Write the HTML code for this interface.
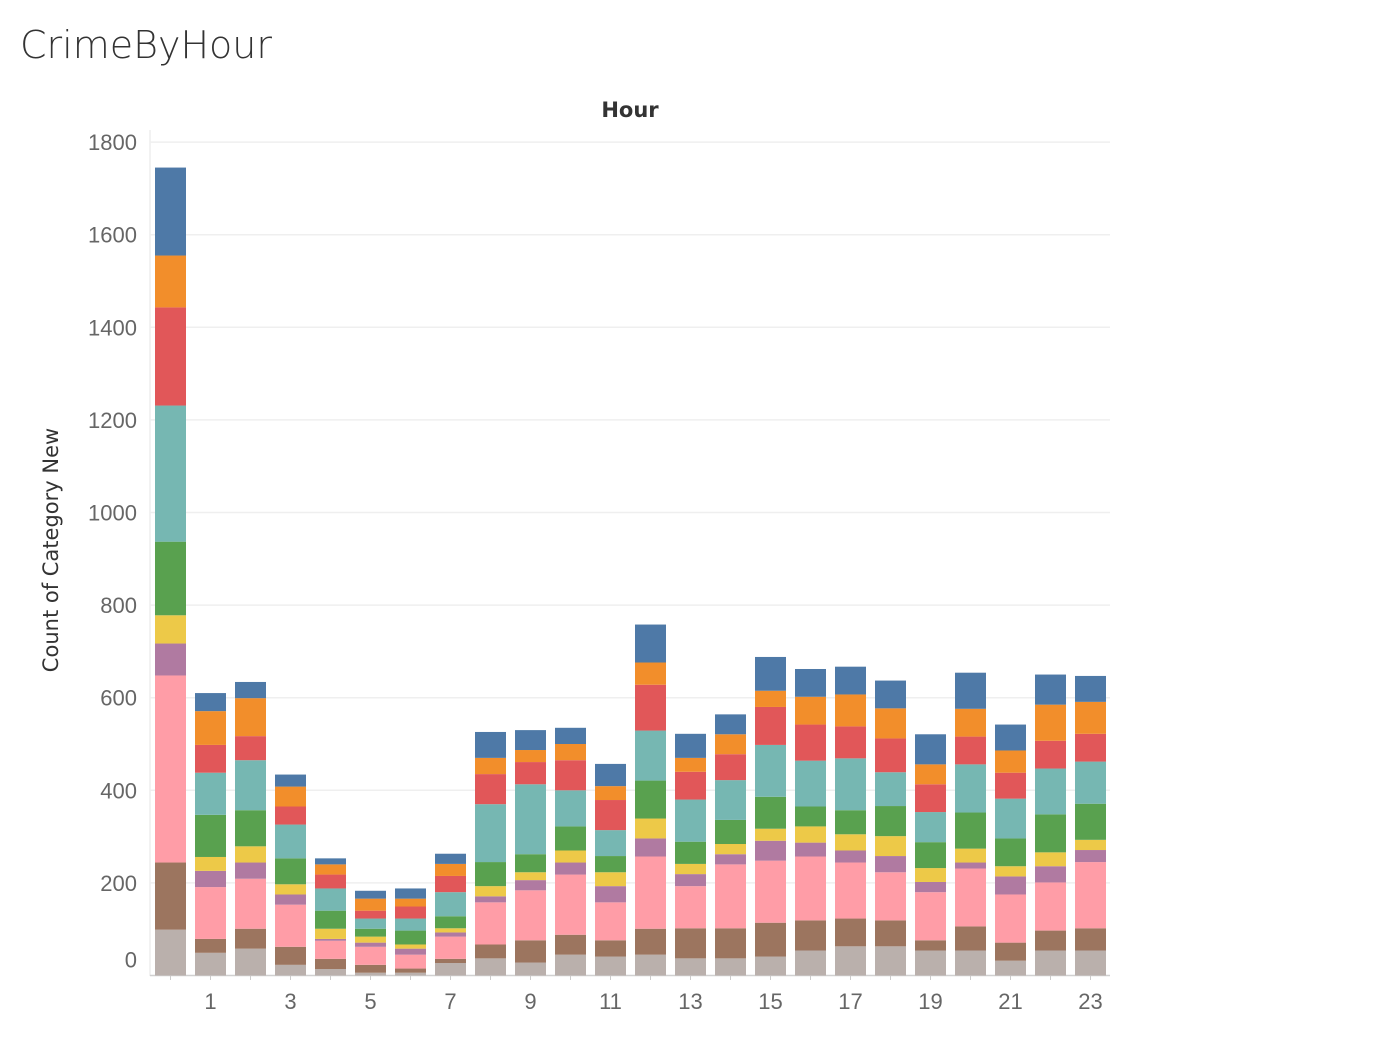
<!DOCTYPE html>
<html><head><meta charset="utf-8"><style>
body{margin:0;background:#fff;width:1374px;height:1036px;overflow:hidden;font-family:"Liberation Sans","DejaVu Sans",sans-serif}
</style></head><body>
<svg id="chart" width="1374" height="1036" xmlns="http://www.w3.org/2000/svg">
<text x="20" y="58" font-size="38" fill="#333" font-family="DejaVu Sans, sans-serif" font-weight="300">CrimeByHour</text>
<text x="630" y="117" font-size="21" fill="#333" font-weight="bold" text-anchor="middle" font-family="DejaVu Sans, sans-serif">Hour</text>
<text transform="translate(58,550) rotate(-90)" font-size="21" fill="#333" text-anchor="middle" font-family="DejaVu Sans, sans-serif">Count of Category New</text>
<g id="grid"></g><g id="bars"></g><g id="axes"></g>
</svg>
<script>
const hours=[0,1,2,3,4,5,6,7,8,9,10,11,12,13,14,15,16,17,18,19,20,21,22,23];
const yTicks=[0,200,400,600,800,1000,1200,1400,1600,1800];
const colors=["#bab0ac","#9c755f","#ff9da7","#b07aa1","#edc948","#59a14f","#76b7b2","#e15759","#f28e2b","#4e79a7"];
const sGray=[99,49,58,23,14,6,6,27,37,28,45,41,45,37,37,41,54,63,63,54,54,32,54,54];
const sBrown=[145,30,43,39,22,17,9,9,30,48,43,35,56,65,65,73,65,60,56,22,52,39,43,48];
const sPink=[404,112,108,91,39,39,30,48,91,108,130,82,156,91,138,134,138,121,104,104,125,104,104,143];
const sPurple=[69,35,35,22,4,9,13,9,13,22,26,35,39,26,22,43,30,26,35,22,13,39,35,26];
const sYellow=[61,30,35,22,22,13,9,9,22,17,26,30,43,22,22,26,35,35,43,30,30,22,30,22];
const sGreen=[159,91,78,56,39,17,30,26,52,39,52,35,82,48,52,69,43,52,65,56,78,60,82,78];
const sTeal=[294,91,108,73,48,22,26,52,125,151,78,56,108,91,86,112,99,112,73,65,104,86,99,91];
const sRed=[212,60,52,39,30,17,26,35,65,48,65,65,99,60,56,82,78,69,73,60,60,56,60,60];
const sOrange=[112,73,82,43,22,26,17,26,35,26,35,30,48,30,43,35,60,69,65,43,60,48,78,69];
const sBlue=[190,39,35,26,13,17,22,22,56,43,35,48,82,52,43,73,60,60,60,65,78,56,65,56];
const series=[sGray,sBrown,sPink,sPurple,sYellow,sGreen,sTeal,sRed,sOrange,sBlue];
const names=["gray","brown","pink","purple","yellow","green","teal","red","orange","blue"];
const NS="http://www.w3.org/2000/svg";
const y0=975.5,k=0.463;
function yScale(v){return y0-v*k;}
function xScale(h){return 155+40*h;}
const bw=31;
function mk(t,a,p){const e=document.createElementNS(NS,t);for(const n in a)e.setAttribute(n,a[n]);p.appendChild(e);return e;}
const grid=document.getElementById('grid'),bars=document.getElementById('bars'),axes=document.getElementById('axes');
mk('line',{x1:150,x2:150,y1:130,y2:976,stroke:'#e6e6e6','stroke-width':1},grid);
yTicks.forEach(v=>{
  const gl=mk('line',{x1:150,x2:1110,y1:yScale(v),y2:yScale(v),stroke:v===0?'#d0d0d0':'#efefef','stroke-width':v===0?1.5:1.5},grid);
  
  
  const t=mk('text',{x:137,y:yScale(v)+(v===0?-8:8),'font-size':22,fill:'#666','text-anchor':'end'},axes);
  t.textContent=v;
  
  
});
hours.forEach((h,i)=>{
  let cum=0;
  series.forEach((s,j)=>{
    const v=s[i];
    const r=mk('rect',{x:xScale(h),y:yScale(cum+v),width:bw,height:v*k,fill:colors[j]},bars);
    
    
    cum+=v;
  });
  mk('line',{x1:xScale(h)+bw/2,x2:xScale(h)+bw/2,y1:976,y2:980,stroke:'#ccc'},axes);
  if(h%2===1){
    const t=mk('text',{x:xScale(h)+bw/2,y:1009,'font-size':22,fill:'#666','text-anchor':'middle'},axes);
    t.textContent=h;
    
    
  }
});
</script>
</body></html>
